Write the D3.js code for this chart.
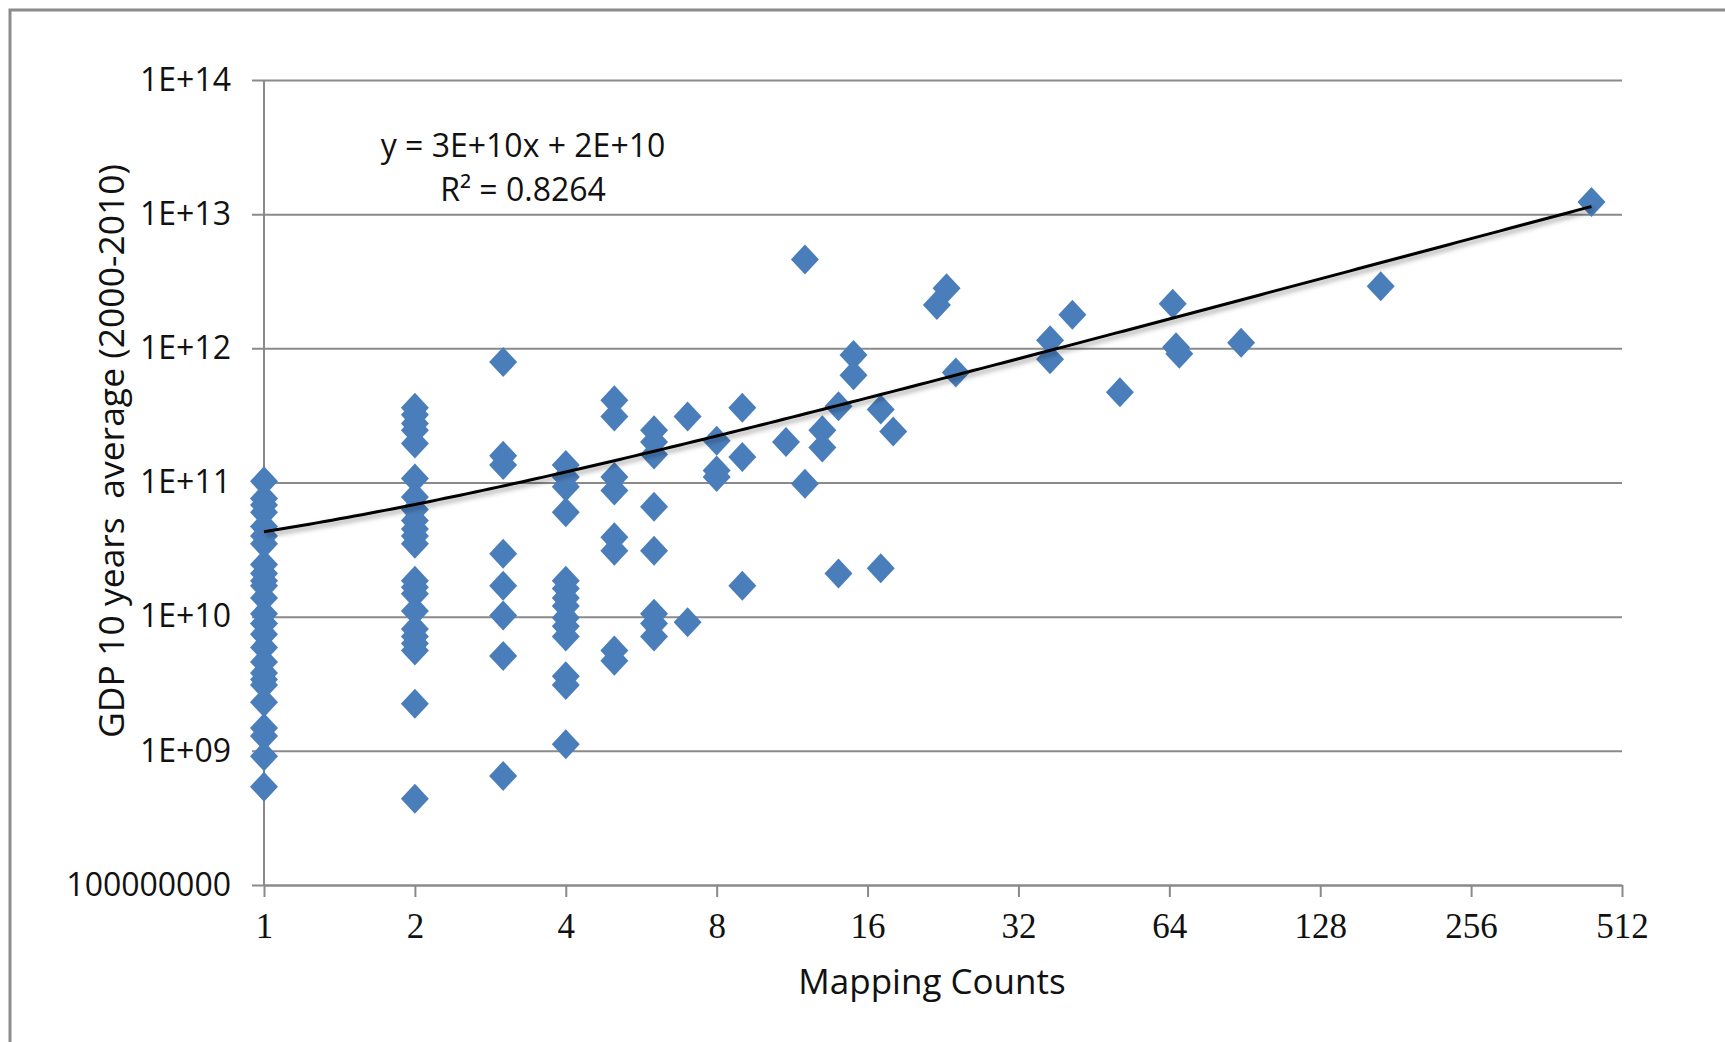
<!DOCTYPE html>
<html>
<head>
<meta charset="utf-8">
<script src="https://d3js.org/d3.v7.min.js"></script>
<style>
  body { margin: 0; background: #fff; }
  svg { display: block; }
</style>
</head>
<body>
<div id="chart"></div>
<script>
//---- height and width for the svg element -----/
var width = 1725
var height = 1042
var margin = {top: 80, right: 103, bottom: 157, left: 264}
//-----------------------------------------------//

//------------------- data ----------------------//
// mapping counts (x) and GDP 10 years average (y)
var mappingCounts = [
  1,1,1,1,1,1,1,1,1,1,1,1,1,1,1,1,1,1,1,1,1,1,1,1,1,
  2,2,2,2,2,2,2,2,2,2,2,2,2,2,2,2,2,2,2,2,2,2,
  3,3,3,3,3,3,3,3,
  4,4,4,4,4,4,4,4,4,4,4,4,4,4,
  5,5,5,5,5,5,5,5,
  6,6,6,6,6,6,6,6,
  7,7,
  8,8,8,
  9,9,9,
  11,
  12,12,
  13,13,
  14,14,
  15,15,
  17,17,
  18,
  22,23,24,
  37,37,
  41,51,
  65,66,67,
  89,169,445
];
var gdpAverage = [
  1.02e11,7.6e10,6.8e10,6.0e10,4.7e10,4.0e10,3.5e10,2.45e10,2.1e10,1.85e10,1.7e10,1.38e10,
  1.05e10,8.9e9,7.4e9,5.9e9,4.6e9,3.8e9,3.4e9,3.1e9,2.3e9,1.48e9,1.29e9,9.1e8,5.4e8,
  3.6e11,3.2e11,2.75e11,2.45e11,1.95e11,1.07e11,7.8e10,6.3e10,5.2e10,4.5e10,4.0e10,
  3.5e10,1.85e10,1.66e10,1.48e10,1.1e10,8.1e9,7.1e9,6.3e9,5.6e9,2.24e9,4.4e8,
  7.9e11,1.58e11,1.35e11,2.95e10,1.7e10,1.02e10,5.1e9,6.5e8,
  1.35e11,1.1e11,9.3e10,6.0e10,1.85e10,1.62e10,1.38e10,1.2e10,9.8e9,8.5e9,7.1e9,3.6e9,3.1e9,1.12e9,
  4.1e11,3.1e11,1.1e11,8.7e10,3.9e10,3.1e10,5.6e9,4.7e9,
  2.45e11,2.0e11,1.62e11,6.6e10,3.1e10,1.05e10,8.9e9,7.1e9,
  3.1e11,9.1e9,
  2.05e11,1.23e11,1.1e11,
  3.6e11,1.55e11,1.7e10,
  2.0e11,
  4.6e12,9.8e10,
  2.45e11,1.82e11,
  3.7e11,2.1e10,
  8.9e11,6.3e11,
  3.5e11,2.3e10,
  2.4e11,
  2.1e12,2.8e12,6.6e11,
  1.15e12,8.3e11,
  1.78e12,4.7e11,
  2.15e12,1.02e12,9.1e11,
  1.1e12,2.9e12,1.23e13
];

var xTicks = [1, 2, 4, 8, 16, 32, 64, 128, 256, 512];
var yTicks = [1e8, 1e9, 1e10, 1e11, 1e12, 1e13, 1e14];
var yTickLabels = ['100000000', '1E+09', '1E+10', '1E+11', '1E+12', '1E+13', '1E+14'];

// linear trendline (Excel) and its label
var trendSlope = 2.56e10;
var trendIntercept = 1.74e10;
var trendLabel = ['y = 3E+10x + 2E+10', 'R² = 0.8264'];
//-----------------------------------------------//

var points = mappingCounts.map(function(d, i){
  return {x: d, y: gdpAverage[i]};
});

//------------------- svg element ---------------//
var svg = d3.select('#chart').append('svg')
            .attr('width', width)
            .attr('height', height);

var defs = svg.append('defs');
defs.append('filter')
    .attr('id', 'lineShadow')
    .attr('x', '-5%').attr('y', '-20%')
    .attr('width', '110%').attr('height', '140%')
  .append('feDropShadow')
    .attr('dx', 2).attr('dy', 3)
    .attr('stdDeviation', 2.5)
    .attr('flood-color', '#000')
    .attr('flood-opacity', 0.4);

// chart frame
svg.append('rect')
   .attr('x', 10).attr('y', 10)
   .attr('width', width + 20).attr('height', height + 20)
   .attr('fill', 'none')
   .attr('stroke', '#8c8c8c')
   .attr('stroke-width', 3);
//-----------------------------------------------//

//------------------- scales --------------------//
var x = d3.scaleLog().base(2)
          .domain([1, 512])
          .range([margin.left, width - margin.right]);
var y = d3.scaleLog()
          .domain([1e8, 1e14])
          .range([height - margin.bottom, margin.top]);
//-----------------------------------------------//

var gridColor = '#8a8a8a';

//------------------- y axis & grid -------------//
var yAxis = d3.axisLeft(y)
              .tickValues(yTicks)
              .tickSize(-(width - margin.right - margin.left))
              .tickPadding(33)
              .tickFormat(function(d, i){ return yTickLabels[i]; });

var gy = svg.append('g')
            .attr('transform', 'translate(' + margin.left + ',0)')
            .call(yAxis);
gy.select('.domain').remove();
gy.selectAll('.tick line')
  .attr('x1', -12)
  .attr('stroke', gridColor)
  .attr('stroke-width', 2);
gy.selectAll('.tick text')
  .attr('fill', '#111')
  .style('font-family', '"Open Sans", sans-serif')
  .style('font-size', '32px');

svg.append('line')
   .attr('x1', margin.left).attr('x2', margin.left)
   .attr('y1', margin.top).attr('y2', height - margin.bottom)
   .attr('stroke', gridColor)
   .attr('stroke-width', 2);
//-----------------------------------------------//

//------------------- x axis --------------------//
var xAxis = d3.axisBottom(x)
              .tickValues(xTicks)
              .tickSize(12)
              .tickSizeOuter(0)
              .tickPadding(16)
              .tickFormat(d3.format('d'));

var gx = svg.append('g')
            .attr('transform', 'translate(0,' + (height - margin.bottom) + ')')
            .call(xAxis);
gx.select('.domain')
  .attr('stroke', gridColor)
  .attr('stroke-width', 2);
gx.selectAll('.tick line')
  .attr('stroke', gridColor)
  .attr('stroke-width', 2);
gx.selectAll('.tick text')
  .attr('fill', '#111')
  .style('font-family', '"Liberation Serif", serif')
  .style('font-size', '35px');
//-----------------------------------------------//

//------------------- points --------------------//
svg.append('g')
   .selectAll('path')
   .data(points)
   .enter().append('path')
   .attr('d', 'M0,-15L14,0L0,15L-14,0Z')
   .attr('transform', function(d){ return 'translate(' + x(d.x) + ',' + y(d.y) + ')'; })
   .attr('fill', '#4a7ebb');
//-----------------------------------------------//

//------------------- trendline -----------------//
var xMax = d3.max(mappingCounts);
var trendX = d3.range(0, Math.log2(xMax), 0.05).map(function(p){ return Math.pow(2, p); }).concat([xMax]);
var trendLine = d3.line()
                  .x(function(d){ return x(d); })
                  .y(function(d){ return y(trendSlope * d + trendIntercept); });

svg.append('path')
   .datum(trendX)
   .attr('d', trendLine)
   .attr('fill', 'none')
   .attr('stroke', '#000')
   .attr('stroke-width', 3)
   .attr('filter', 'url(#lineShadow)');

svg.append('text')
   .attr('x', 523)
   .attr('y', 157)
   .attr('text-anchor', 'middle')
   .style('font-family', '"Open Sans", sans-serif')
   .style('font-size', '32px')
   .attr('fill', '#111')
   .selectAll('tspan')
   .data(trendLabel)
   .enter().append('tspan')
   .attr('x', 523)
   .attr('dy', function(d, i){ return i === 0 ? 0 : 44; })
   .text(function(d){ return d; });
//-----------------------------------------------//

//------------------- axis titles ---------------//
svg.append('text')
   .attr('x', 932)
   .attr('y', 994)
   .attr('text-anchor', 'middle')
   .style('font-family', '"Open Sans", sans-serif')
   .style('font-size', '35px')
   .attr('fill', '#111')
   .text('Mapping Counts');

svg.append('text')
   .attr('transform', 'translate(124,451) rotate(-90)')
   .attr('text-anchor', 'middle')
   .style('font-family', '"Open Sans", sans-serif')
   .style('font-size', '35.5px')
   .style('white-space', 'pre')
   .attr('fill', '#111')
   .text('GDP 10 years  average (2000-2010)');
//-----------------------------------------------//
</script>
</body>
</html>
